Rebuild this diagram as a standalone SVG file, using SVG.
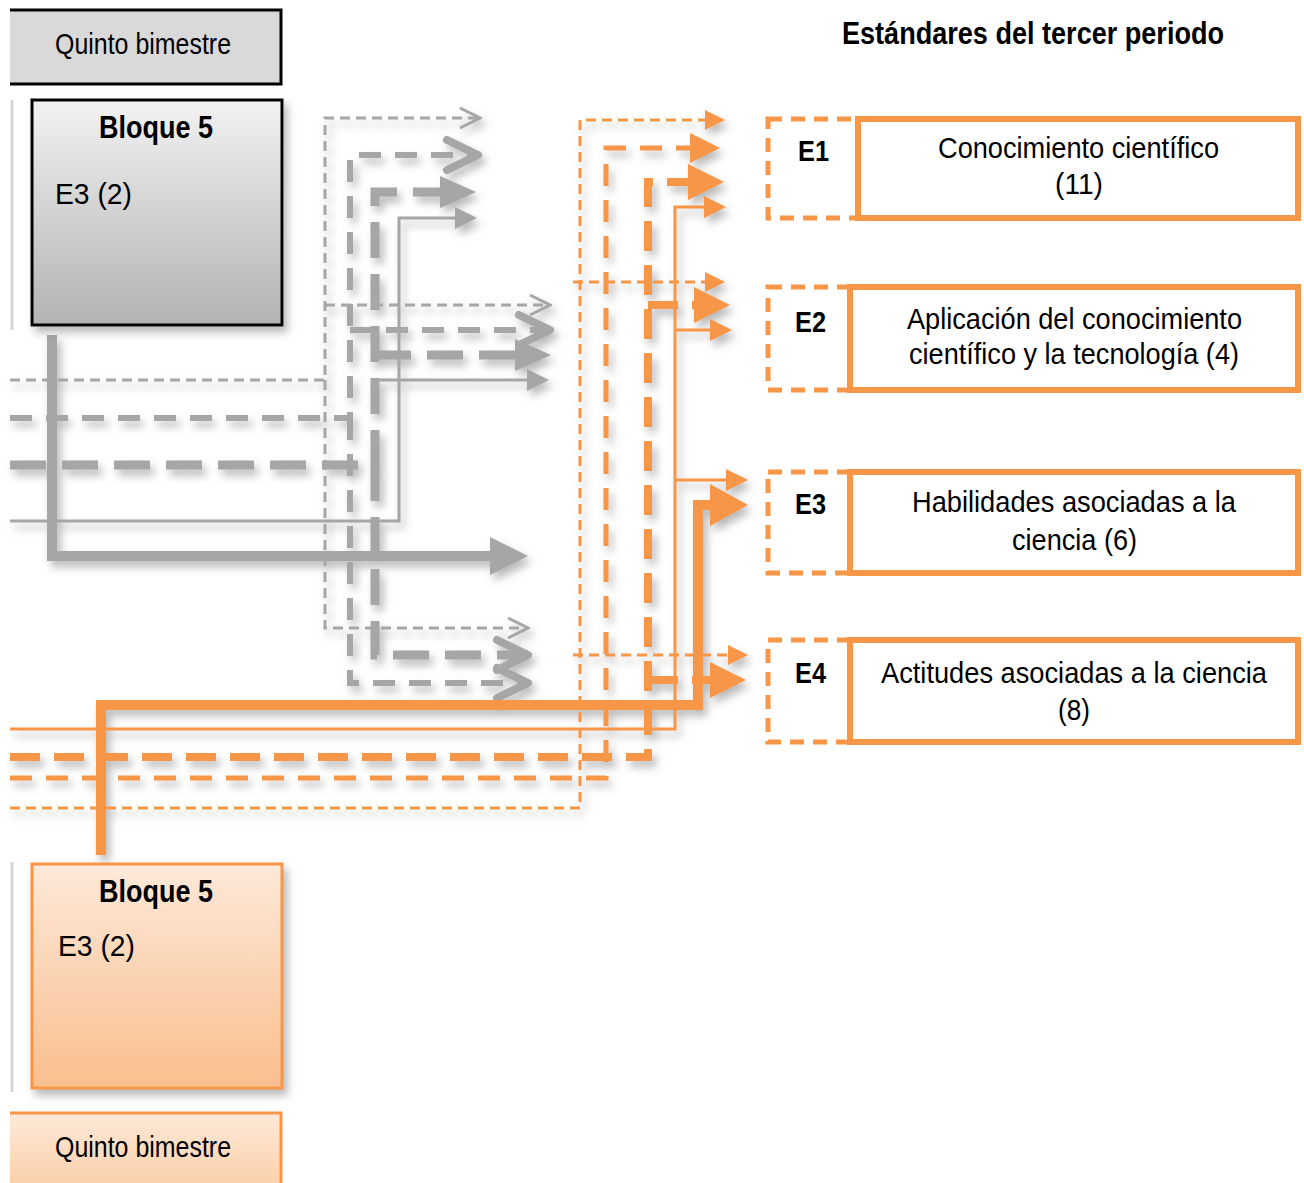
<svg xmlns="http://www.w3.org/2000/svg" width="1304" height="1183" viewBox="0 0 1304 1183">
<style>
  text { font-family: "Liberation Sans Narrow", "Liberation Sans", Arial, sans-serif; fill: #000; }
  .b { font-weight: bold; }
  .g { fill: none; stroke: #a6a6a6; stroke-linejoin: miter; }
  .o { fill: none; stroke: #f79646; stroke-linejoin: miter; }
  .s3 { stroke-width: 3; }
  .s5 { stroke-width: 5; }
  .s6 { stroke-width: 6; }
  .s8 { stroke-width: 8; }
  .s9 { stroke-width: 9; }
  .s10 { stroke-width: 10; }
  .d1 { stroke-dasharray: 10 6; }
  .d2 { stroke-dasharray: 22 14; }
  .d3 { stroke-dasharray: 36 16; }
  .d4 { stroke-dasharray: 30 14; }
  .eD { fill: #fff; stroke: #f79646; stroke-width: 5; stroke-dasharray: 14 9; }
  .eS { fill: #fff; stroke: #f79646; stroke-width: 6; }
</style>
<defs>
  <filter id="sh" x="-10%" y="-10%" width="130%" height="130%">
    <feDropShadow dx="4" dy="6" stdDeviation="4" flood-color="#7f7f7f" flood-opacity="0.55"/>
  </filter>
  <linearGradient id="gGray" x1="0" y1="0" x2="0" y2="1">
    <stop offset="0" stop-color="#f2f2f2"/>
    <stop offset="1" stop-color="#b3b3b3"/>
  </linearGradient>
  <linearGradient id="gOr" x1="0" y1="0" x2="0" y2="1">
    <stop offset="0" stop-color="#fde9d9"/>
    <stop offset="1" stop-color="#f9be8e"/>
  </linearGradient>
  <linearGradient id="gOrH" x1="0" y1="0" x2="0" y2="1">
    <stop offset="0" stop-color="#fde9d9"/>
    <stop offset="1" stop-color="#fbcfa8"/>
  </linearGradient>
  <!-- gray markers -->
  <marker id="gChS" markerUnits="userSpaceOnUse" viewBox="0 0 24 24" markerWidth="24" markerHeight="24" refX="22" refY="12" orient="auto">
    <path d="M2,2 L22,12 L2,22" fill="none" stroke="#a6a6a6" stroke-width="3"/>
  </marker>
  <marker id="gChL" markerUnits="userSpaceOnUse" viewBox="0 0 40 40" markerWidth="40" markerHeight="40" refX="36" refY="20" orient="auto">
    <path d="M5,5 L36,20 L5,35" fill="none" stroke="#a6a6a6" stroke-width="8" stroke-linecap="round" stroke-linejoin="round"/>
  </marker>
  <marker id="gTrS" markerUnits="userSpaceOnUse" viewBox="0 0 22 22" markerWidth="22" markerHeight="22" refX="0" refY="11" orient="auto">
    <path d="M0,0 L22,11 L0,22 Z" fill="#a6a6a6"/>
  </marker>
  <marker id="gTrL" markerUnits="userSpaceOnUse" viewBox="0 0 36 32" markerWidth="36" markerHeight="32" refX="0" refY="16" orient="auto">
    <path d="M0,0 L36,16 L0,32 Z" fill="#a6a6a6"/>
  </marker>
  <marker id="gTrX" markerUnits="userSpaceOnUse" viewBox="0 0 38 38" markerWidth="38" markerHeight="38" refX="0" refY="19" orient="auto">
    <path d="M0,0 L38,19 L0,38 Z" fill="#a6a6a6"/>
  </marker>
  <!-- orange markers -->
  <marker id="oTrT" markerUnits="userSpaceOnUse" viewBox="0 0 20 20" markerWidth="20" markerHeight="20" refX="0" refY="10" orient="auto">
    <path d="M0,0 L20,10 L0,20 Z" fill="#f79646"/>
  </marker>
  <marker id="oTrS" markerUnits="userSpaceOnUse" viewBox="0 0 22 22" markerWidth="22" markerHeight="22" refX="0" refY="11" orient="auto">
    <path d="M0,0 L22,11 L0,22 Z" fill="#f79646"/>
  </marker>
  <marker id="oTrM" markerUnits="userSpaceOnUse" viewBox="0 0 30 30" markerWidth="30" markerHeight="30" refX="0" refY="15" orient="auto">
    <path d="M0,0 L30,15 L0,30 Z" fill="#f79646"/>
  </marker>
  <marker id="oTrL" markerUnits="userSpaceOnUse" viewBox="0 0 36 36" markerWidth="36" markerHeight="36" refX="0" refY="18" orient="auto">
    <path d="M0,0 L36,18 L0,36 Z" fill="#f79646"/>
  </marker>
  <marker id="oTrX" markerUnits="userSpaceOnUse" viewBox="0 0 38 42" markerWidth="38" markerHeight="42" refX="0" refY="21" orient="auto">
    <path d="M0,0 L38,21 L0,42 Z" fill="#f79646"/>
  </marker>
</defs>

<rect width="1304" height="1183" fill="#ffffff"/>

<!-- faint side lines -->
<g id="side-lines" stroke="#d6d6d6" stroke-width="3">
  <line x1="12" y1="100" x2="12" y2="330"/>
  <line x1="12" y1="862" x2="12" y2="1092"/>
</g>

<!-- gray connectors -->
<g id="connectors-gray" filter="url(#sh)">
  <path class="g s3 d1" d="M10,380 H325 V118 H480" marker-end="url(#gChS)"/>
  <path class="g s3 d1" d="M325,305 H550" marker-end="url(#gChS)"/>
  <path class="g s3 d1" d="M325,380 V628 H528" marker-end="url(#gChS)"/>
  <path class="g s6 d2" d="M10,418 H350 V155 H478" marker-end="url(#gChL)"/>
  <path class="g s6 d2" d="M350,330 H550" marker-end="url(#gChL)"/>
  <path class="g s6 d2" d="M350,418 V683 H528" marker-end="url(#gChL)"/>
  <path class="g s9 d3" d="M10,465 H375 V192 H440" marker-end="url(#gTrL)"/>
  <path class="g s9 d3" d="M375,355 H515" marker-end="url(#gTrL)"/>
  <path class="g s9 d3" d="M375,465 V655 H528" marker-end="url(#gChL)"/>
  <path class="g s3" d="M10,521 H399 V218 H455" marker-end="url(#gTrS)"/>
  <path class="g s3" d="M378,380 H527" marker-end="url(#gTrS)"/>
  <path class="g s10" d="M52,335 V556 H490" marker-end="url(#gTrX)"/>
</g>

<!-- gray nodes -->
<g id="header-gray">
  <rect x="10" y="10" width="271" height="74" fill="#d9d9d9"/>
  <path d="M10,10 H281 V84 H10" fill="none" stroke="#000" stroke-width="3"/>
  <text x="55" y="54" font-size="29" textLength="176" lengthAdjust="spacingAndGlyphs">Quinto bimestre</text>
</g>
<g id="bloque-gray">
  <rect x="32" y="100" width="250" height="225" fill="url(#gGray)" stroke="#000" stroke-width="3" filter="url(#sh)"/>
  <text class="b" x="99" y="138" font-size="31" textLength="114" lengthAdjust="spacingAndGlyphs">Bloque 5</text>
  <text x="55" y="204" font-size="30" textLength="77" lengthAdjust="spacingAndGlyphs">E3 (2)</text>
</g>

<!-- orange connectors -->
<g id="connectors-orange" filter="url(#sh)">
  <path class="o s3 d1" d="M10,808 H580 V120 H705" marker-end="url(#oTrT)"/>
  <path class="o s3 d1" d="M573,282 H705" marker-end="url(#oTrT)"/>
  <path class="o s3 d1" d="M573,655 H728" marker-end="url(#oTrT)"/>
  <path class="o s5 d2" d="M10,778 H606 V148 H690" marker-end="url(#oTrM)"/>
  <path class="o s8 d4" d="M10,757 H648 V182 H688" marker-end="url(#oTrL)"/>
  <path class="o s8 d4" d="M648,305 H694" marker-end="url(#oTrL)"/>
  <path class="o s8 d4" d="M648,680 H710" marker-end="url(#oTrL)"/>
  <path class="o s3" d="M10,729 H675 V207 H704" marker-end="url(#oTrS)"/>
  <path class="o s3" d="M675,330 H710" marker-end="url(#oTrS)"/>
  <path class="o s3" d="M675,480 H726" marker-end="url(#oTrS)"/>
  <path class="o s10" d="M101,855 V705 H698 V505 H710" marker-end="url(#oTrX)"/>
</g>

<!-- orange nodes -->
<g id="bloque-orange">
  <rect x="32" y="864" width="250" height="224" fill="url(#gOr)" stroke="#f79646" stroke-width="3" filter="url(#sh)"/>
  <text class="b" x="99" y="902" font-size="31" textLength="114" lengthAdjust="spacingAndGlyphs">Bloque 5</text>
  <text x="58" y="956" font-size="30" textLength="77" lengthAdjust="spacingAndGlyphs">E3 (2)</text>
</g>
<g id="header-orange">
  <rect x="10" y="1113" width="271" height="75" fill="url(#gOrH)"/>
  <path d="M10,1113 H281 V1188" fill="none" stroke="#f79646" stroke-width="3"/>
  <text x="55" y="1157" font-size="29" textLength="176" lengthAdjust="spacingAndGlyphs">Quinto bimestre</text>
</g>

<!-- title -->
<g id="title">
  <text class="b" x="842" y="44" font-size="31" textLength="382" lengthAdjust="spacingAndGlyphs">Estándares del tercer periodo</text>
</g>

<!-- standards -->
<g id="E1">
  <rect class="eD" x="768" y="119" width="90" height="99"/>
  <rect class="eS" x="858" y="119" width="440" height="99"/>
  <text class="b" x="798" y="161" font-size="30" textLength="31" lengthAdjust="spacingAndGlyphs">E1</text>
  <text x="938" y="158" font-size="30" textLength="281" lengthAdjust="spacingAndGlyphs">Conocimiento científico</text>
  <text x="1055" y="194" font-size="30" textLength="48" lengthAdjust="spacingAndGlyphs">(11)</text>
</g>
<g id="E2">
  <rect class="eD" x="768" y="287" width="82" height="103"/>
  <rect class="eS" x="850" y="287" width="448" height="103"/>
  <text class="b" x="795" y="332" font-size="30" textLength="31" lengthAdjust="spacingAndGlyphs">E2</text>
  <text x="907" y="329" font-size="30" textLength="335" lengthAdjust="spacingAndGlyphs">Aplicación del conocimiento</text>
  <text x="909" y="364" font-size="30" textLength="330" lengthAdjust="spacingAndGlyphs">científico y la tecnología (4)</text>
</g>
<g id="E3">
  <rect class="eD" x="768" y="472" width="82" height="101"/>
  <rect class="eS" x="850" y="472" width="448" height="101"/>
  <text class="b" x="795" y="514" font-size="30" textLength="31" lengthAdjust="spacingAndGlyphs">E3</text>
  <text x="912" y="512" font-size="30" textLength="324" lengthAdjust="spacingAndGlyphs">Habilidades asociadas a la</text>
  <text x="1012" y="550" font-size="30" textLength="125" lengthAdjust="spacingAndGlyphs">ciencia (6)</text>
</g>
<g id="E4">
  <rect class="eD" x="768" y="640" width="82" height="102"/>
  <rect class="eS" x="850" y="640" width="448" height="102"/>
  <text class="b" x="795" y="683" font-size="30" textLength="31" lengthAdjust="spacingAndGlyphs">E4</text>
  <text x="881" y="683" font-size="30" textLength="386" lengthAdjust="spacingAndGlyphs">Actitudes asociadas a la ciencia</text>
  <text x="1058" y="720" font-size="30" textLength="32" lengthAdjust="spacingAndGlyphs">(8)</text>
</g>
</svg>
